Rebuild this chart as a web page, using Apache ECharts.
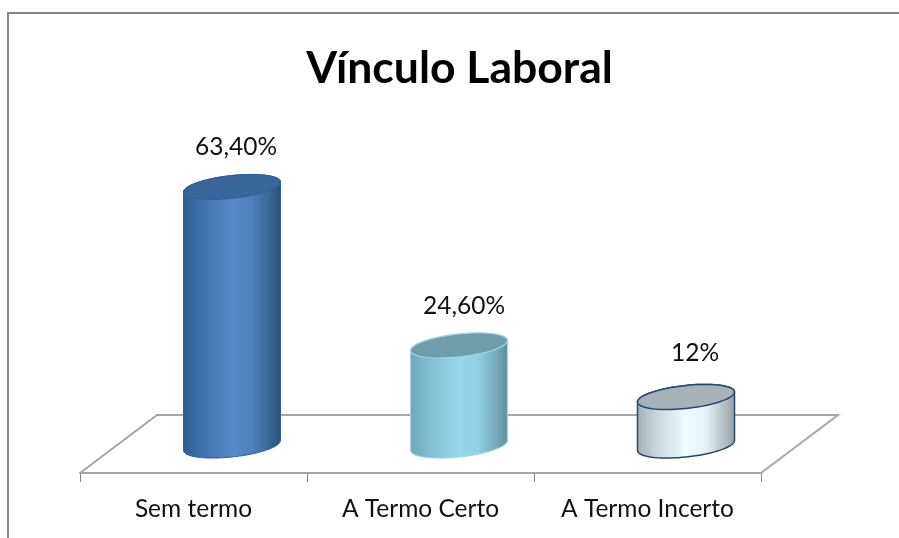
<!DOCTYPE html>
<html><head><meta charset="utf-8">
<style>html,body{margin:0;padding:0;background:#fff}#c{width:899px;height:538px}</style>
<script src="https://cdn.jsdelivr.net/npm/echarts@6/dist/echarts.min.js"></script>
</head><body><div id="c"></div>
<script>
const categories = ['Sem termo', 'A Termo Certo', 'A Termo Incerto'];
const values = [63.4, 24.6, 12];
const valueLabels = ['63,40%', '24,60%', '12%'];
const titleText = 'Vínculo Laboral';

// layout + style, separate from data
const FONT = 'Lato, "Open Sans", sans-serif';
const depth = [77, -58];            // floor depth vector
const valueLabelNudge = [[4, -40], [5, -39], [9, -44]];
const skins = [
  {stops:[[0,'#2d5c92'],[0.2,'#3f72ae'],[0.5,'#5788c9'],[0.7,'#5081bf'],[0.88,'#3a6596'],[1,'#2b4f78']], top:'#38659a', line:'#2f619c', lw:1},
  {stops:[[0,'#6ea5b8'],[0.2,'#82bed2'],[0.5,'#97d7ec'],[0.7,'#8fcee3'],[0.88,'#76a9bb'],[1,'#5f8c9e']], top:'#6f9dab', line:'#a4d3ea', lw:1.2},
  {stops:[[0,'#a3aeb3'],[0.2,'#c8d7dd'],[0.5,'#eefbff'],[0.7,'#e4f5fa'],[0.88,'#b4c1c6'],[1,'#97a2a7']], top:'#a7b3b8', line:'#27476e', lw:1.5}
];
const rx = 48.5, slant = 5, ry = 11.5;

function ellipsePts(cx, cy, from, to, n) {
  const p = [];
  for (let i = 0; i <= n; i++) {
    const t = from + (to - from) * i / n;
    p.push([cx + rx * Math.cos(t), cy - slant * Math.cos(t) + ry * Math.sin(t)]);
  }
  return p;
}

const chart = echarts.init(document.getElementById('c'), null, {renderer: 'canvas'});
chart.setOption({
  animation: false,
  backgroundColor: '#ffffff',
  title: {text: titleText, left: 459.5, top: 46, textAlign: 'center', padding: 0,
    textStyle: {fontFamily: FONT, fontWeight: 'bold', fontSize: 44.5, color: '#000'}},
  graphic: [{type: 'polyline', silent: true,
    shape: {points: [[8, 538], [8, 13], [899, 13]]},
    style: {stroke: '#868686', lineWidth: 2, fill: null}}],
  grid: {left: 80, width: 681, top: 187, height: 286},
  xAxis: {type: 'category', data: categories,
    axisLine: {lineStyle: {color: '#a6a6a6', width: 2}},
    axisTick: {show: true, length: 9, alignWithLabel: false, lineStyle: {color: '#868686', width: 1}},
    axisLabel: {fontFamily: FONT, fontSize: 24.5, color: '#111', margin: 24, interval: 0}},
  yAxis: {type: 'value', min: 0, max: 70, show: false, splitLine: {show: false}},
  series: [
    {type: 'custom', coordinateSystem: 'cartesian2d', z: 1, silent: true, data: [[0]],
      renderItem(params, api) {
        const y0 = api.coord([0, 0])[1];
        const xL = params.coordSys.x, xR = xL + params.coordSys.width;
        return {type: 'polyline', shape: {points: [[xL, y0], [xL + depth[0], y0 + depth[1]], [xR + depth[0], y0 + depth[1]], [xR, y0]]},
          style: {stroke: '#a6a6a6', lineWidth: 2, fill: null}};
      }},
    {type: 'custom', coordinateSystem: 'cartesian2d', z: 2, silent: true,
      encode: {x: 0, y: 1},
      data: values.map((v, i) => [i, v]),
      renderItem(params, api) {
        const i = params.dataIndex;
        const base = api.coord([i, 0]), top = api.coord([i, api.value(1)]);
        const cx = base[0] + depth[0] / 2, by = base[1] + depth[1] / 2 + 1.5, ty = top[1] + depth[1] / 2 + 2;
        const s = skins[i];
        const grad = new echarts.graphic.LinearGradient(0, 0, 1, 0, s.stops.map(a => ({offset: a[0], color: a[1]})));
        const body = ellipsePts(cx, by, 0, Math.PI, 40)
          .concat(ellipsePts(cx, ty, Math.PI, 2 * Math.PI, 40));
        const lid = ellipsePts(cx, ty, 0, 2 * Math.PI, 80);
        return {type: 'group', children: [
          {type: 'polygon', shape: {points: body}, style: {fill: grad, stroke: s.line, lineWidth: s.lw}},
          {type: 'polygon', shape: {points: lid}, style: {fill: s.top, stroke: s.line, lineWidth: s.lw}},
          {type: 'text', style: {text: valueLabels[i], x: cx + valueLabelNudge[i][0], y: ty + valueLabelNudge[i][1],
            align: 'center', verticalAlign: 'middle', font: '24.5px ' + FONT, fill: '#111'}}
        ]};
      }}
  ]
});
</script></body></html>
